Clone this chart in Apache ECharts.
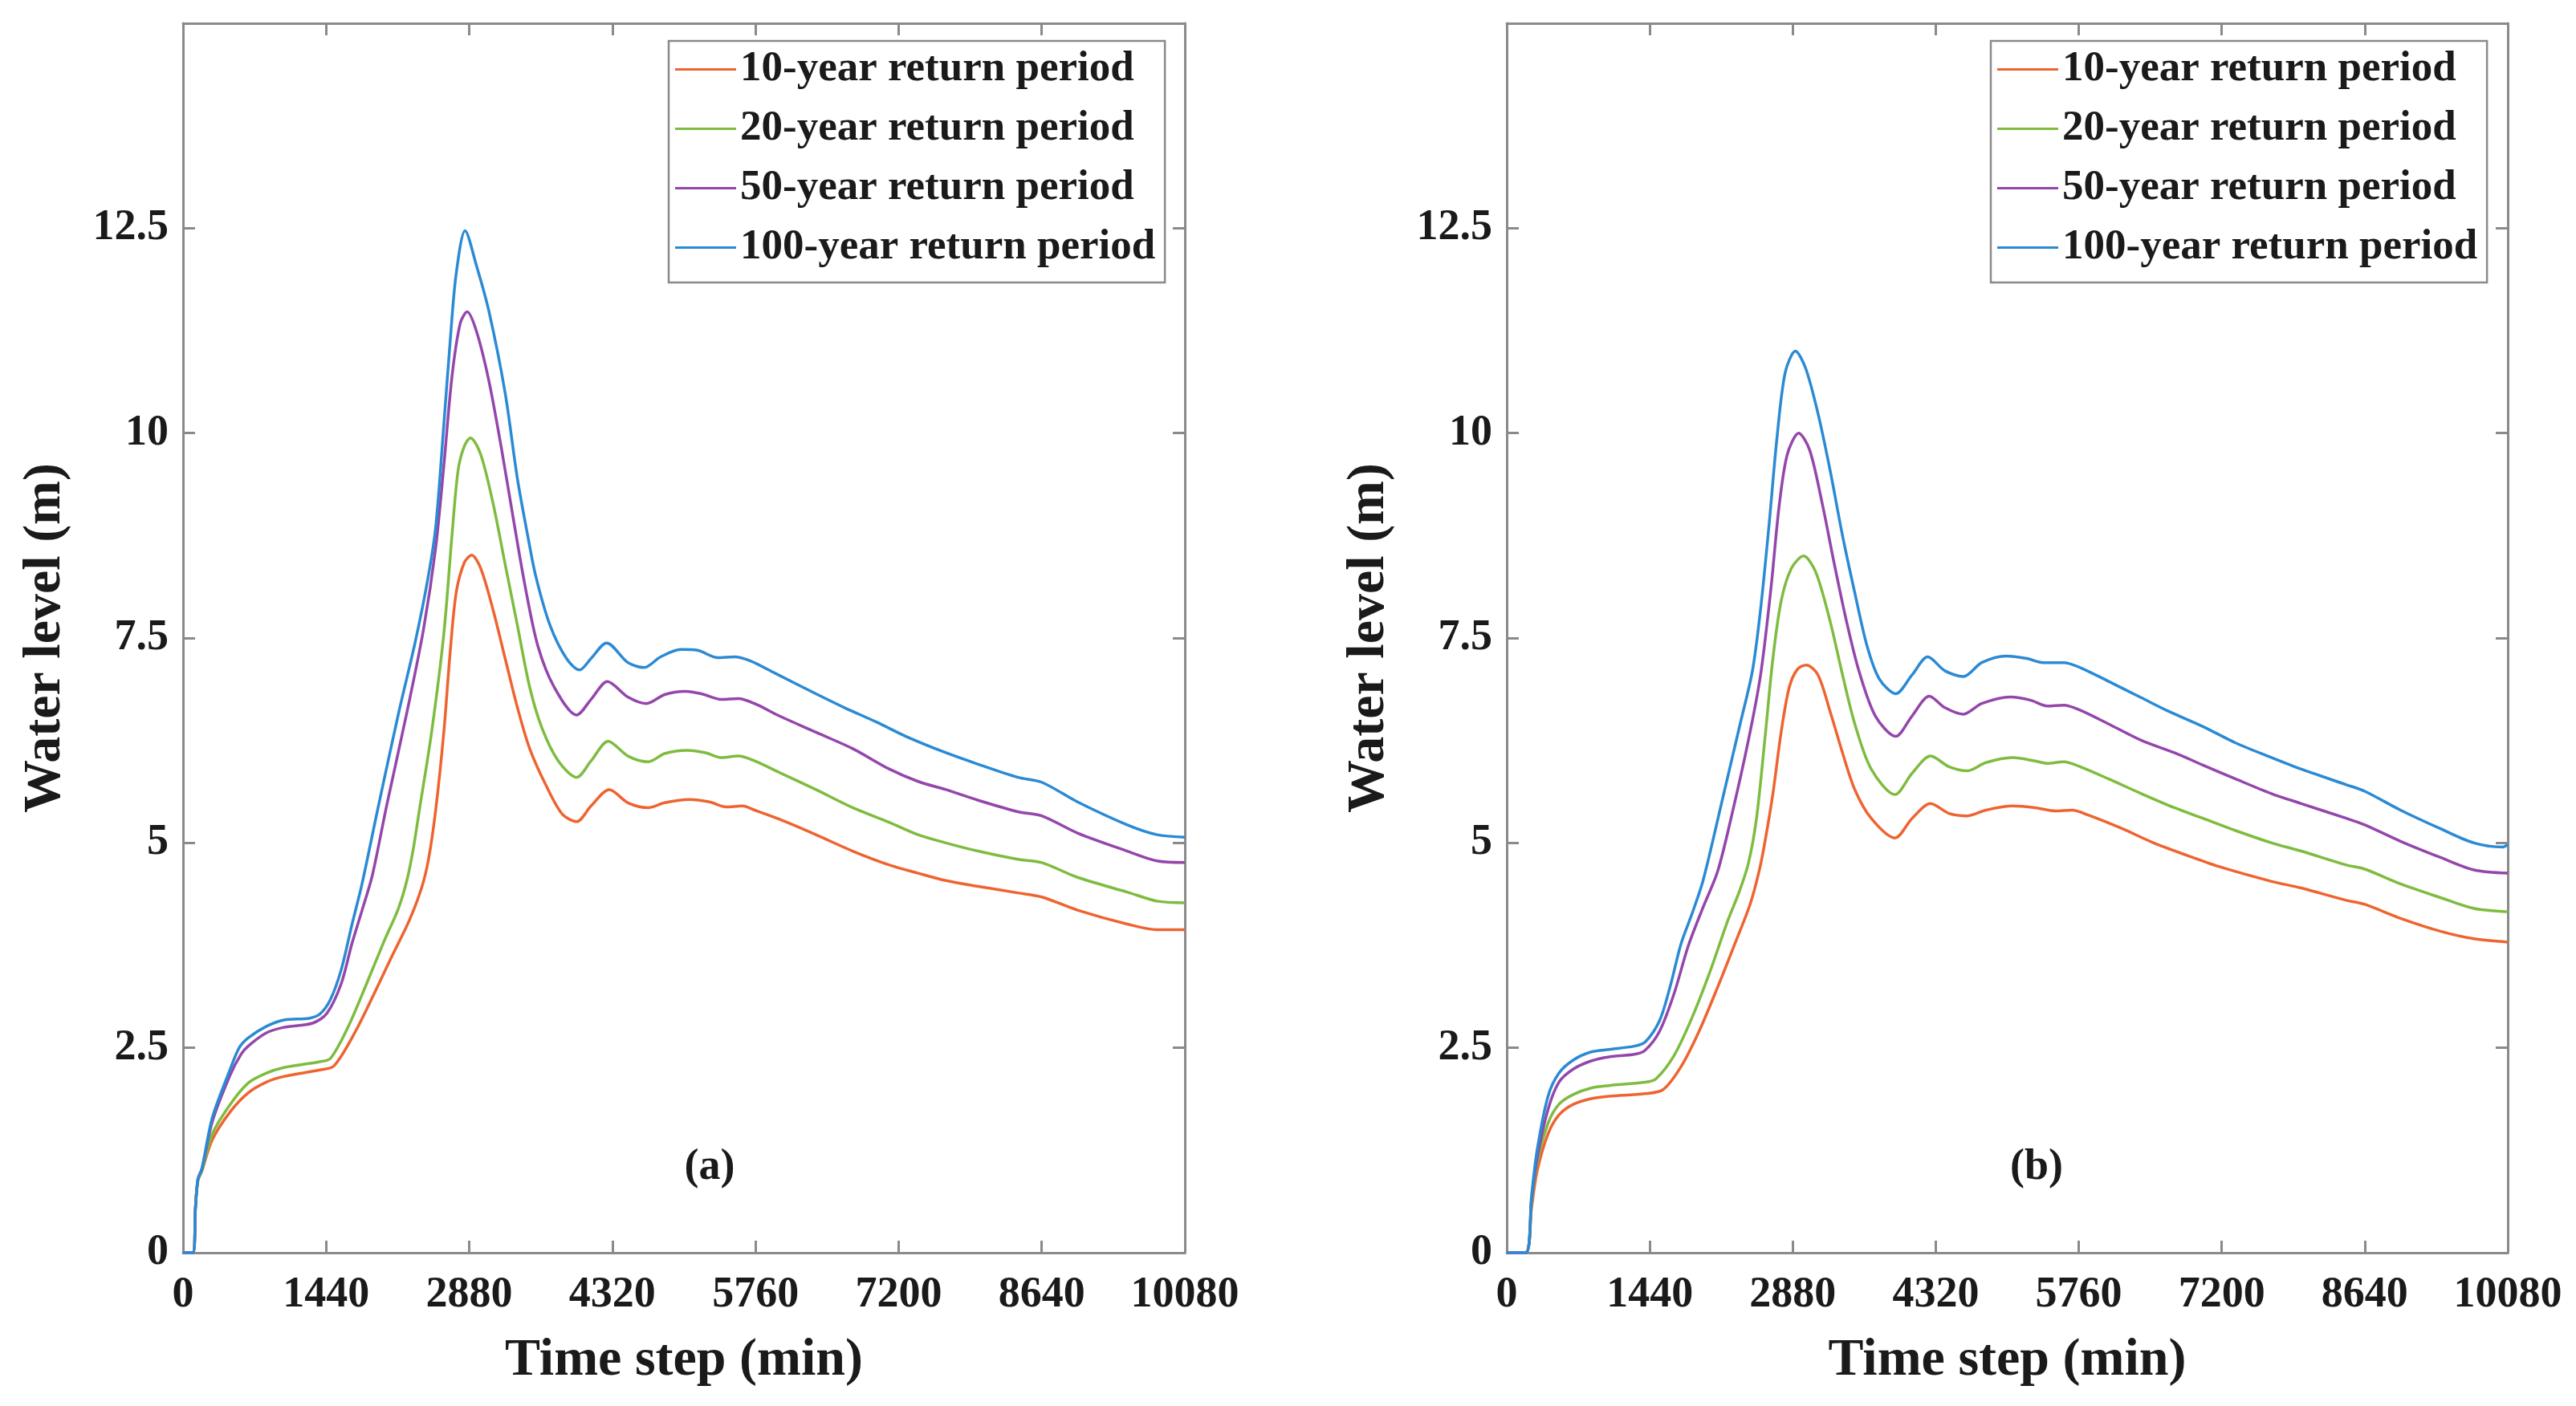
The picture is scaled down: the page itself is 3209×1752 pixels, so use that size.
<!DOCTYPE html>
<html>
<head>
<meta charset="utf-8">
<script src="https://cdn.jsdelivr.net/npm/echarts@6/dist/echarts.min.js"></script>
<style>
html,body{margin:0;padding:0;background:#fff;}
#chart{width:3209px;height:1752px;}
</style>
</head>
<body>
<div id="chart"></div>
<script>
// ---- data (time in min, water level in m) ----
const seriesNames = ['10-year return period', '20-year return period', '50-year return period', '100-year return period'];
const xTicks = [0, 1440, 2880, 4320, 5760, 7200, 8640, 10080];
const yTicks = [0, 2.5, 5, 7.5, 10, 12.5];
const panelLabels = ['(a)', '(b)'];

// Panel (a)
const a10 = [[0,0],[100,0],[125,0.55],[150,0.88],[190,1.0],[295,1.38],[475,1.72],[655,1.95],[835,2.08],[1015,2.15],[1375,2.23],[1519,2.28],[1735,2.7],[1915,3.14],[2095,3.6],[2275,4.05],[2400,4.45],[2470,4.8],[2542,5.4],[2624,6.35],[2686,7.3],[2748,8.05],[2830,8.42],[2904,8.51],[2995,8.35],[3118,7.85],[3241,7.25],[3365,6.65],[3488,6.15],[3653,5.7],[3817,5.35],[3961,5.26],[4105,5.45],[4290,5.65],[4476,5.49],[4681,5.43],[4846,5.49],[5093,5.53],[5298,5.5],[5463,5.44],[5628,5.45],[5751,5.4],[5998,5.29],[6368,5.1],[6738,4.9],[7108,4.73],[7396,4.63],[7676,4.54],[8000,4.47],[8400,4.39],[8640,4.34],[9000,4.18],[9500,4.01],[9800,3.94],[10080,3.94]];
const a20 = [[0,0],[100,0],[125,0.55],[150,0.88],[190,1.0],[295,1.45],[475,1.81],[655,2.07],[835,2.19],[1015,2.26],[1375,2.33],[1483,2.37],[1663,2.76],[1843,3.27],[2023,3.8],[2167,4.2],[2254,4.55],[2320,4.95],[2378,5.4],[2501,6.35],[2624,7.55],[2706,8.75],[2768,9.55],[2830,9.84],[2892,9.94],[2995,9.74],[3118,9.15],[3241,8.4],[3365,7.65],[3488,6.9],[3612,6.4],[3776,6.0],[3961,5.8],[4105,6.0],[4278,6.24],[4476,6.06],[4681,5.99],[4846,6.09],[5072,6.13],[5257,6.1],[5422,6.04],[5586,6.06],[5751,6.0],[5998,5.86],[6368,5.65],[6738,5.43],[7108,5.25],[7396,5.1],[7676,5.0],[8000,4.9],[8400,4.8],[8640,4.76],[9000,4.58],[9500,4.4],[9800,4.29],[10080,4.27]];
const a50 = [[0,0],[100,0],[125,0.55],[150,0.9],[190,1.02],[295,1.6],[475,2.17],[583,2.42],[655,2.52],[835,2.68],[1015,2.75],[1303,2.8],[1447,2.92],[1591,3.28],[1699,3.77],[1807,4.2],[1904,4.6],[2048,5.45],[2254,6.6],[2419,7.6],[2542,8.6],[2624,9.6],[2706,10.69],[2789,11.34],[2859,11.48],[2953,11.24],[3077,10.64],[3200,9.84],[3324,8.95],[3447,8.1],[3571,7.4],[3735,6.9],[3961,6.56],[4105,6.75],[4270,6.97],[4476,6.78],[4661,6.7],[4846,6.81],[5052,6.85],[5216,6.82],[5422,6.75],[5586,6.76],[5751,6.7],[5998,6.55],[6368,6.35],[6738,6.15],[7108,5.9],[7396,5.75],[7676,5.65],[8000,5.52],[8400,5.38],[8640,5.33],[9000,5.12],[9500,4.9],[9800,4.78],[10080,4.76]];
const a100 = [[0,0],[100,0],[125,0.55],[150,0.9],[190,1.03],[295,1.65],[475,2.24],[565,2.5],[655,2.62],[835,2.76],[1015,2.84],[1267,2.86],[1375,2.91],[1483,3.09],[1591,3.45],[1699,4.0],[1801,4.5],[1966,5.45],[2172,6.6],[2336,7.45],[2460,8.2],[2542,8.85],[2624,10.1],[2686,11.09],[2748,11.94],[2838,12.47],[2953,12.04],[3077,11.49],[3241,10.49],[3365,9.44],[3468,8.75],[3550,8.25],[3694,7.65],[3858,7.25],[3990,7.11],[4105,7.25],[4262,7.44],[4476,7.2],[4640,7.14],[4805,7.27],[5010,7.36],[5175,7.35],[5381,7.26],[5545,7.27],[5710,7.22],[5957,7.07],[6368,6.82],[6656,6.65],[6985,6.47],[7273,6.3],[7676,6.1],[8000,5.96],[8400,5.8],[8640,5.74],[9000,5.5],[9500,5.22],[9800,5.1],[10080,5.07]];

// Panel (b)
const b10 = [[0,0],[190,0],[250,0.55],[307,1.0],[416,1.45],[525,1.68],[669,1.81],[850,1.88],[1031,1.91],[1393,1.94],[1574,1.99],[1755,2.27],[1936,2.7],[2117,3.22],[2297,3.77],[2450,4.25],[2540,4.65],[2598,5.0],[2680,5.6],[2763,6.35],[2845,6.9],[2928,7.12],[3018,7.17],[3134,7.05],[3257,6.6],[3381,6.1],[3505,5.65],[3670,5.3],[3909,5.06],[4082,5.3],[4268,5.48],[4453,5.36],[4639,5.33],[4825,5.4],[5093,5.45],[5320,5.43],[5526,5.39],[5691,5.4],[5856,5.34],[6186,5.18],[6515,5.0],[6845,4.85],[7175,4.71],[7703,4.53],[8000,4.45],[8454,4.3],[8640,4.25],[9000,4.08],[9408,3.92],[9740,3.83],[10080,3.79]];
const b20 = [[0,0],[190,0],[250,0.6],[307,1.1],[416,1.58],[525,1.81],[669,1.93],[850,2.01],[1031,2.04],[1393,2.08],[1501,2.12],[1682,2.4],[1863,2.86],[2044,3.42],[2225,4.05],[2340,4.4],[2433,4.75],[2515,5.3],[2598,6.25],[2680,7.25],[2763,7.95],[2866,8.35],[2989,8.5],[3113,8.3],[3257,7.7],[3381,7.05],[3505,6.45],[3670,5.9],[3909,5.59],[4082,5.85],[4268,6.06],[4453,5.93],[4639,5.88],[4825,5.98],[5093,6.04],[5320,6.0],[5443,5.97],[5608,5.99],[5773,5.93],[6062,5.78],[6392,5.6],[6722,5.43],[7010,5.3],[7340,5.15],[7703,5.0],[8000,4.9],[8454,4.73],[8640,4.68],[9000,4.5],[9408,4.33],[9740,4.2],[10080,4.16]];
const b50 = [[0,0],[190,0],[250,0.65],[307,1.16],[416,1.75],[525,2.08],[669,2.24],[850,2.34],[1031,2.39],[1284,2.42],[1393,2.47],[1538,2.7],[1682,3.15],[1827,3.74],[1972,4.2],[2123,4.65],[2268,5.35],[2433,6.25],[2556,7.05],[2660,8.1],[2742,9.1],[2825,9.74],[2940,10.0],[3051,9.79],[3175,9.15],[3299,8.4],[3422,7.7],[3546,7.1],[3711,6.55],[3917,6.3],[4082,6.55],[4255,6.79],[4412,6.65],[4598,6.57],[4783,6.7],[5072,6.78],[5278,6.74],[5443,6.67],[5608,6.68],[5773,6.62],[6062,6.45],[6392,6.25],[6722,6.1],[7010,5.95],[7340,5.78],[7703,5.6],[8000,5.48],[8454,5.3],[8640,5.22],[9000,5.02],[9408,4.82],[9740,4.67],[10080,4.63]];
const b100 = [[0,0],[190,0],[250,0.7],[307,1.26],[416,1.91],[525,2.19],[669,2.35],[850,2.45],[1031,2.48],[1284,2.52],[1393,2.57],[1538,2.83],[1646,3.25],[1755,3.77],[1870,4.15],[1979,4.55],[2185,5.6],[2350,6.45],[2474,7.1],[2556,7.85],[2639,8.85],[2721,9.94],[2804,10.74],[2907,11.0],[3010,10.79],[3134,10.24],[3257,9.54],[3381,8.75],[3505,8.05],[3629,7.4],[3752,7.0],[3917,6.82],[4082,7.05],[4239,7.27],[4412,7.1],[4598,7.03],[4783,7.2],[5031,7.28],[5237,7.25],[5402,7.2],[5608,7.2],[5773,7.14],[6062,6.97],[6392,6.77],[6639,6.62],[7010,6.42],[7340,6.22],[7703,6.04],[8000,5.9],[8454,5.71],[8640,5.63],[9000,5.4],[9408,5.17],[9740,5.0],[10031,4.95],[10080,4.98]];

const panelData = [[a10, a20, a50, a100], [b10, b20, b50, b100]];
const colors = ['#EE6430', '#7EBC40', '#9446AB', '#2B8AD4'];

// ---- styling ----
const FONT = '"Liberation Serif", "Times New Roman", serif';
const TXT = '#1a1a1a';
const AX = '#8a8a8a';
const grids = [
  { left: 228, top: 29, width: 1248, height: 1532 },
  { left: 1877, top: 29, width: 1247, height: 1532 }
];
const legendLeft = [833, 2480];
const labelPos = [[884, 1455], [2537, 1455]];

const xAxes = [], yAxes = [], series = [], legends = [], graphics = [];
grids.forEach((g, i) => {
  const lineStyle = { color: AX, width: 3 };
  xAxes.push({
    gridIndex: i, type: 'value', position: 'bottom',
    min: xTicks[0], max: xTicks[xTicks.length - 1], interval: 1440,
    axisLine: { show: true, onZero: false, lineStyle },
    axisTick: { show: true, inside: true, length: 15, lineStyle },
    splitLine: { show: false },
    axisLabel: { fontFamily: FONT, fontWeight: 'bold', fontSize: 54, color: TXT, margin: 26,
      formatter: v => (xTicks.indexOf(v) >= 0 ? String(v) : '') },
    name: 'Time step (min)', nameLocation: 'middle', nameGap: 102,
    nameTextStyle: { fontFamily: FONT, fontWeight: 'bold', fontSize: 66, color: TXT }
  });
  xAxes.push({
    gridIndex: i, type: 'value', position: 'top',
    min: xTicks[0], max: xTicks[xTicks.length - 1], interval: 1440,
    axisLine: { show: true, onZero: false, lineStyle },
    axisTick: { show: true, inside: true, length: 15, lineStyle },
    splitLine: { show: false }, axisLabel: { show: false }
  });
  yAxes.push({
    gridIndex: i, type: 'value', position: 'left',
    min: 0, max: 15, interval: 2.5,
    axisLine: { show: true, onZero: false, lineStyle },
    axisTick: { show: true, inside: true, length: 15, lineStyle },
    splitLine: { show: false },
    axisLabel: {
      fontFamily: FONT, fontWeight: 'bold', fontSize: 54, color: TXT, margin: 18,
      formatter: v => (yTicks.indexOf(v) >= 0 ? String(v) : '')
    },
    name: 'Water level (m)', nameLocation: 'middle', nameGap: 138, nameRotate: 90,
    nameTextStyle: { fontFamily: FONT, fontWeight: 'bold', fontSize: 66, color: TXT }
  });
  yAxes.push({
    gridIndex: i, type: 'value', position: 'right',
    min: 0, max: 15, interval: 2.5,
    axisLine: { show: true, onZero: false, lineStyle },
    axisTick: { show: true, inside: true, length: 15, lineStyle },
    splitLine: { show: false }, axisLabel: { show: false }
  });
  panelData[i].forEach((d, k) => {
    series.push({
      type: 'line', name: seriesNames[k], data: d,
      xAxisIndex: i * 2, yAxisIndex: i * 2,
      showSymbol: false, symbol: 'none', smooth: 0.3,
      lineStyle: { color: colors[k], width: 3.5 },
      itemStyle: { color: colors[k] },
      z: 2 + k
    });
  });
  legends.push({
    orient: 'vertical', left: legendLeft[i], top: 51,
    data: seriesNames, icon: 'rect', itemWidth: 76, itemHeight: 3, itemGap: 21,
    padding: [9, 12, 17, 8],
    borderColor: AX, borderWidth: 2.5, backgroundColor: '#fff',
    selectedMode: false,
    textStyle: { fontFamily: FONT, fontWeight: 'bold', fontSize: 53, lineHeight: 52, color: TXT }
  });
  graphics.push({
    type: 'text', x: labelPos[i][0], y: labelPos[i][1],
    style: { text: panelLabels[i], fontFamily: FONT, fontWeight: 'bold', fontSize: 54, fill: TXT, align: 'center', verticalAlign: 'middle' },
    z: 10
  });
});

const chart = echarts.init(document.getElementById('chart'), null, { renderer: 'canvas' });
chart.setOption({
  animation: false,
  backgroundColor: '#ffffff',
  grid: grids,
  xAxis: xAxes,
  yAxis: yAxes,
  legend: legends,
  series: series,
  graphic: graphics
});
</script>
</body>
</html>
